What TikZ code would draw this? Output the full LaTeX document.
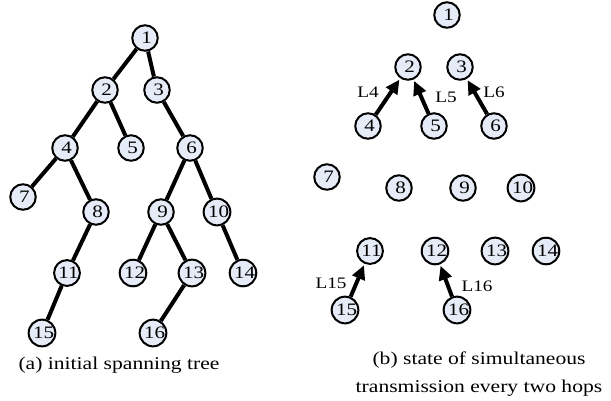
\documentclass[tikz,border=0pt]{standalone}
\usepackage{fontspec}
\setmainfont[FakeStretch=1.2]{Liberation Serif}
\usetikzlibrary{arrows.meta}
\definecolor{nodefill}{HTML}{E6ECF7}
\tikzset{
  vtx/.style={circle, draw=black, line width=2pt, fill=nodefill,
    minimum size=25.5pt, inner sep=0pt,
    font=\fontsize{17.5}{17.5}\selectfont},
  tedge/.style={line width=4pt},
  send/.style={line width=4pt, -{Triangle[length=14pt,width=13pt]}, shorten >=1.5pt},
  lbl/.style={inner sep=0pt, font=\fontsize{16}{16}\selectfont},
  captext/.style={inner sep=0pt, align=center, font=\fontsize{18}{28}\selectfont}
}
\newcommand{\vlabel}[1]{\hspace*{3pt}#1}
\begin{document}
\begin{tikzpicture}[x=1pt, y=-1pt]
\useasboundingbox (0,0) rectangle (611,400);

% (a) initial spanning tree
\foreach \n/\x/\y in {1/145/38, 2/105/90, 3/157/90, 4/65/148, 5/131/148, 6/190/148,
    7/23/197, 8/96/212, 9/161/212, 10/217/212, 11/67/273, 12/133/273,
    13/192/273, 14/243/273, 15/42/333, 16/153/333}
  \node[vtx] (a\n) at (\x,\y) {\vlabel{\n}};

\foreach \p/\c in {1/2, 1/3, 2/4, 2/5, 3/6, 4/7, 4/8, 6/9, 6/10,
    8/11, 9/12, 9/13, 10/14, 11/15, 13/16}
  \draw[tedge] (a\p) -- (a\c);

\node[captext] (capa) at (119,365) {(a) initial spanning tree};

% (b) links that transmit at the same time
\foreach \n/\x/\y in {1/447/15, 2/408/67, 3/460/67, 4/368/126, 5/434/126, 6/494/126,
    7/327/177, 8/399/188, 9/463/188, 10/521/188, 11/370/251, 12/435/251,
    13/495/251, 14/546/251, 15/345/310, 16/457/310}
  \node[vtx] (b\n) at (\x,\y) {\vlabel{\n}};

\draw[send] (b4) -- (b2);
\draw[send] (b5) -- (b2);
\draw[send] (b6) -- (b3);
\draw[send] (b15) -- (b11);
\draw[send] (b16) -- (b12);

\node[lbl] (l4) at (368,92) {L4};
\node[lbl] (l5) at (446,97) {L5};
\node[lbl] (l6) at (494,92) {L6};
\node[lbl] (l15) at (331,283) {L15};
\node[lbl] (l16) at (477,286) {L16};

\node[captext] (capb) at (479,374) {(b) state of simultaneous\\transmission every two hops};
\end{tikzpicture}
\end{document}
